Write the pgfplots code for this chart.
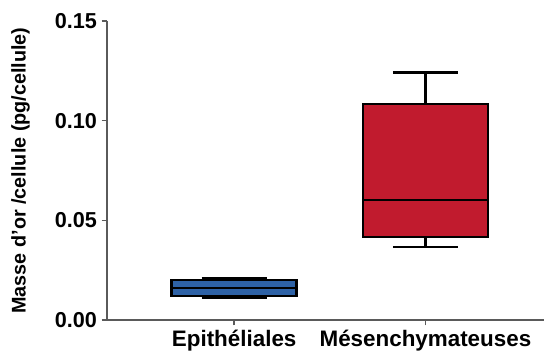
\documentclass[border=0pt]{standalone}
\usepackage{pgfplots}
\pgfplotsset{compat=1.18}
\usepgfplotslibrary{statistics}
\usepackage{fontspec}
\setmainfont{Liberation Sans}
\definecolor{boxblue}{RGB}{46,98,166}
\definecolor{boxred}{RGB}{193,27,46}
\definecolor{axgray}{RGB}{90,90,90}
\begin{document}
\begin{tikzpicture}
\path[use as bounding box] (0,0) rectangle (408pt,265.5pt);
\begin{axis}[
  at={(80.25pt,25.5pt)}, anchor=south west,
  width=327.75pt, height=224.25pt, scale only axis,
  axis lines=left,
  axis line style={-, axgray, line width=1.5pt},
  tick style={axgray, line width=1.2pt},
  tick align=outside,
  major tick length=4pt,
  xmin=0.335, xmax=2.62,
  ymin=0, ymax=0.15,
  xtick={1,2},
  xticklabels={Epithéliales, Mésenchymateuses},
  ytick={0,0.05,0.10,0.15},
  yticklabel style={font=\fontsize{16.2pt}{19pt}\selectfont\bfseries, /pgf/number format/.cd, fixed, fixed zerofill, precision=2, assume math mode=true},
  xticklabel style={font=\fontsize{16.8pt}{19pt}\selectfont\bfseries},
  scaled y ticks=false,
  ylabel={Masse d'or /cellule (pg/cellule)},
  ylabel style={font=\fontsize{14.85pt}{17pt}\selectfont\bfseries},
  ylabel shift=12pt,
  boxplot/draw direction=y,
  clip=false,
]
\addplot+[boxplot prepared={draw position=1, lower whisker=0.011, lower quartile=0.012, median=0.016, upper quartile=0.020, upper whisker=0.021, box extend=0.654, whisker extend=0.34},
  draw=black, line width=2pt, fill=boxblue, solid, mark=none] coordinates {};
\addplot+[boxplot prepared={draw position=2, lower whisker=0.0366, lower quartile=0.0416, median=0.0602, upper quartile=0.1084, upper whisker=0.124, box extend=0.654, whisker extend=0.34},
  draw=black, line width=2pt, fill=boxred, solid, mark=none] coordinates {};
\end{axis}
\end{tikzpicture}
\end{document}
